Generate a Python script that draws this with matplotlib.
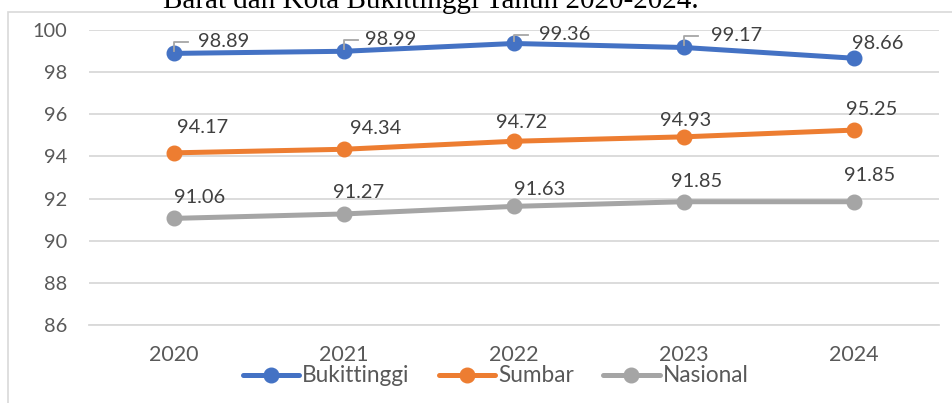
import matplotlib.pyplot as plt
from matplotlib.patches import Rectangle
from matplotlib.transforms import Affine2D

years = ['2020', '2021', '2022', '2023', '2024']
bukittinggi = [98.89, 98.99, 99.36, 99.17, 98.66]
sumbar = [94.17, 94.34, 94.72, 94.93, 95.25]
nasional = [91.06, 91.27, 91.63, 91.85, 91.85]

# data label offsets in pixels (dx, dy)
off_bukit = [(50, 13), (47, 13), (51, 10), (53, 13), (24, 16)]
off_sumbar = [(29, 27), (32, 22), (8, 20), (2, 18), (18, 22)]
off_nasional = [(26, 22), (15, 23), (26, 18), (13, 22), (16, 28)]

plt.rcParams['font.family'] = ['Lato', 'DejaVu Sans']

W, H = 953, 403
fig = plt.figure(figsize=(W / 100, H / 100), dpi=100)
ax = fig.add_axes([89 / W, (H - 325) / H, 850 / W, 295 / H])

x = list(range(len(years)))
series = [
    ('Bukittinggi', bukittinggi, '#4472C4', off_bukit),
    ('Sumbar', sumbar, '#ED7D31', off_sumbar),
    ('Nasional', nasional, '#A5A5A5', off_nasional),
]
for name, vals, col, offs in series:
    ax.plot(x, vals, color=col, lw=3.6, marker='o', ms=10.5, label=name,
            solid_capstyle='round', zorder=3)

ax.set_xlim(-0.5, 4.5)
ax.set_ylim(86, 100)
ax.set_yticks(range(86, 101, 2))
ax.set_xticks(x)
ax.set_xticklabels(years)
ax.yaxis.grid(True, color='#D9D9D9', lw=1.3)
ax.set_axisbelow(True)
for s in ['top', 'right', 'left']:
    ax.spines[s].set_visible(False)
ax.spines['bottom'].set_color('#D9D9D9')
ax.spines['bottom'].set_linewidth(1.3)
ax.tick_params(axis='both', length=0, labelsize=14.4, labelcolor='#595959')
ax.tick_params(axis='y', pad=15.5)
ax.tick_params(axis='x', pad=14.5, labelsize=15.5)

# data labels
for name, vals, col, offs in series:
    for i, v in enumerate(vals):
        dx, dy = offs[i]
        ax.annotate(f'{v:.2f}', (i, v), xytext=(dx, dy - 7),
                    textcoords='offset pixels', ha='center', va='baseline',
                    fontsize=14.4, color='#404040', zorder=5)

# leader lines for the blue labels
for i, v in enumerate(bukittinggi[:4]):
    dy = off_bukit[i][1] - 1.5
    px, py = ax.transData.transform((i, v))
    t = Affine2D().translate(px, py)
    ax.plot([0, 0, 14], [2, dy, dy], color='#A6A6A6', lw=1.3,
            transform=t, clip_on=False, zorder=6)

fig.legend(loc='center', bbox_to_anchor=(495.5 / W, (H - 376) / H), ncol=3,
           frameon=False, fontsize=16.3, handlelength=2.5,
           handletextpad=0.13, columnspacing=1.28, labelcolor='#595959')

# chart border and the cut-off caption above it
fig.add_artist(Rectangle((8 / W, -0.1), 2, (H - 11.5) / H + 0.1,
                         transform=fig.transFigure, fill=False,
                         ec='#D9D9D9', lw=1.2))
fig.text(163 / W, (H - 8.3) / H, 'Barat dan Kota Bukittinggi Tahun 2020-2024.',
         family='Liberation Serif', fontsize=21, ha='left', va='baseline',
         color='black', zorder=10)

fig.savefig('out.png', dpi=100)
